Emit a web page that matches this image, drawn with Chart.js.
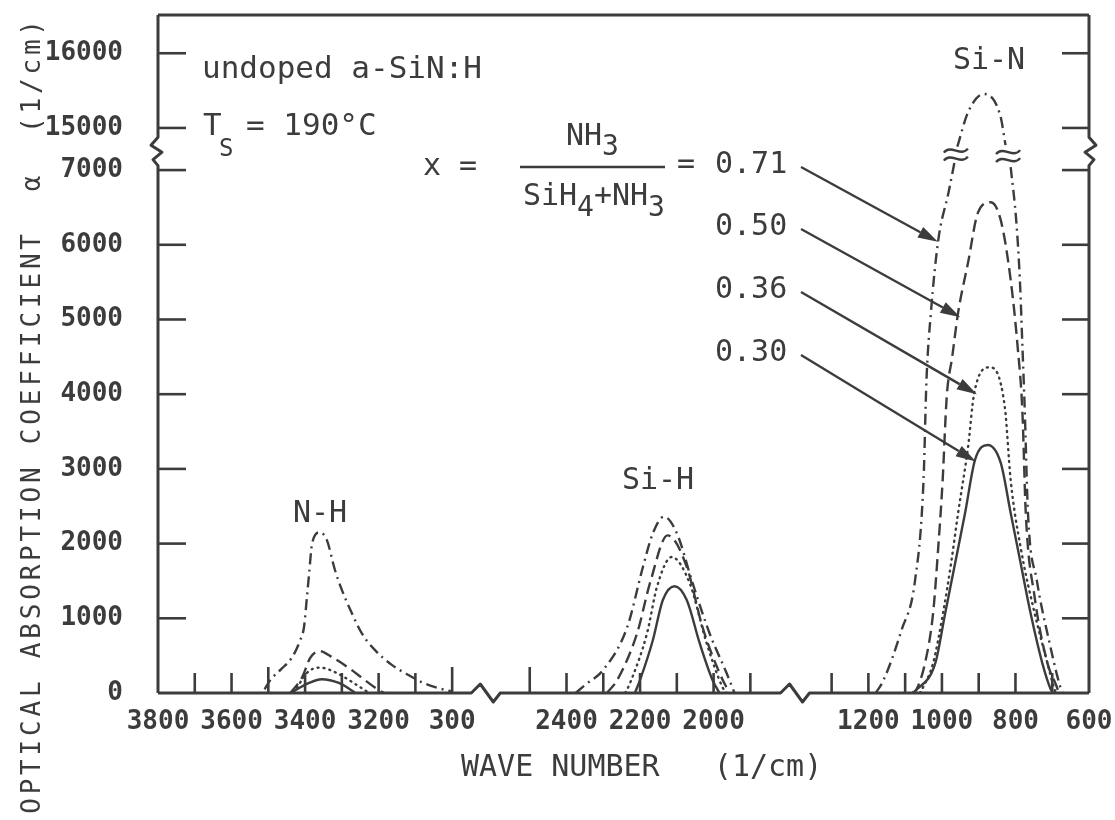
<!DOCTYPE html>
<html>
<head>
<meta charset="utf-8">
<title>a-SiN:H infrared absorption</title>
<script src="https://cdn.jsdelivr.net/npm/chart.js@4.4.1/dist/chart.umd.min.js"></script>
<style>
  body { margin: 0; background: #fff; }
  canvas { display: block; }
</style>
</head>
<body>
<canvas id="chart" width="1115" height="820"></canvas>
<script>
const INK = "#3c3c3c";
const MONO = '"DejaVu Sans Mono", "Liberation Mono", monospace';

// gas ratio x = NH3 / (SiH4 + NH3)
const compositions = ["0.71", "0.50", "0.36", "0.30"];

// [wave number (1/cm), alpha (1/cm)]
// N-H stretching band
const nh071 = [[3510, 50], [3495, 170], [3465, 320], [3435, 480], [3413, 710], [3403, 880], [3395, 1280], [3389, 1600], [3381, 2000], [3360, 2150], [3341, 2050], [3319, 1650], [3300, 1380], [3273, 1070], [3246, 800], [3211, 580], [3165, 380], [3119, 240], [3076, 130], [3030, 55], [3000, 20]];
const nh050 = [[3440, 0], [3408, 210], [3386, 470], [3360, 560], [3327, 480], [3281, 335], [3238, 175], [3200, 40], [3185, 0]];
const nh036 = [[3430, 0], [3395, 270], [3360, 340], [3319, 280], [3273, 150], [3238, 40], [3225, 0]];
const nh030 = [[3440, 0], [3389, 135], [3355, 185], [3308, 135], [3265, 10]];

// Si-H stretching band
const sih071 = [[2375, 0], [2349, 110], [2300, 310], [2235, 880], [2192, 1690], [2165, 2140], [2135, 2360], [2100, 2140], [2057, 1470], [2011, 800], [1965, 270], [1943, 0]];
const sih050 = [[2290, 0], [2262, 175], [2208, 800], [2173, 1470], [2125, 2110], [2073, 1690], [2030, 880], [1984, 270], [1957, 0]];
const sih036 = [[2240, 0], [2227, 135], [2181, 800], [2154, 1420], [2114, 1820], [2065, 1470], [2019, 670], [1976, 80], [1965, 0]];
const sih030 = [[2214, 0], [2200, 175], [2165, 710], [2138, 1245], [2106, 1430], [2073, 1245], [2038, 670], [2003, 175], [1984, 0]];

// Si-N stretching band (null = where the curve crosses the axis break)
const sin071 = [[1180, 0], [1159, 170], [1110, 840], [1073, 1510], [1050, 2850], [1042, 4190], [1030, 5090], [1010, 6060], [982, 6700], [966, 7100], null, [958, 14750], [929, 15210], [886, 15455], [841, 15160], [827, 14770], null, [813, 7040], [798, 6330], [788, 5530], [781, 4630], [775, 3830], [766, 2410], [742, 1510], [705, 620], [681, 130], [672, 0]];
const sin050 = [[1080, 0], [1070, 40], [1046, 400], [1024, 1070], [1010, 1950], [998, 2850], [987, 3960], [972, 4500], [956, 5090], [929, 5760], [902, 6430], [867, 6570], [840, 6330], [813, 5530], [794, 4630], [781, 3750], [772, 2410], [748, 1290], [713, 400], [689, 100], [682, 0]];
const sin036 = [[1060, 0], [1051, 80], [1024, 400], [997, 1070], [975, 1740], [956, 2410], [929, 3290], [912, 4020], [870, 4360], [829, 3830], [813, 2850], [786, 1950], [748, 1070], [713, 400], [697, 100], [690, 0]];
const sin030 = [[1080, 0], [1070, 40], [1018, 400], [991, 1070], [964, 1740], [937, 2410], [910, 3120], [875, 3320], [840, 3080], [813, 2410], [786, 1740], [759, 1070], [727, 400], [705, 60], [698, 0]];

const xTickWaves  = [3800, 3600, 3400, 3200, 3000, 2400, 2200, 2000, 1200, 1000, 800, 600];
const xTickLabels = ["3800", "3600", "3400", "3200", "300", "2400", "2200", "2000", "1200", "1000", "800", "600"];
const xMinorWaves = [3700, 3600, 3500, 3400, 3300, 3200, 3100, 3000, 2500, 2400, 2300, 2200, 2100, 2000, 1900, 1300, 1200, 1100, 1000, 900, 800, 700];
const yTickValues = [0, 1000, 2000, 3000, 4000, 5000, 6000, 7000, 15000, 16000];

// arrow tips sit on the curves, [wave number, alpha]
const arrowTips = [[1011, 6040], [950, 5030], [905, 4000], [908, 3100]];

// broken wave-number axis: 3800-3000 | 2500-1900 | 1300-600, 1 unit = 100/cm
function xv(w) {
  if (w > 2750) return (3800 - w) / 100;
  if (w > 1600) return 11.11 + (2400 - w) / 100;
  return 19.32 + (1200 - w) / 100;
}
// broken alpha axis: 0-7000 | 15000-16500
function yv(a) {
  return a < 11000 ? a : 7564 + (a - 15000);
}

function toPoints(bandList) {
  const pts = [];
  bandList.forEach((band, bi) => {
    if (bi > 0) pts.push({ x: (pts[pts.length - 1].x + xv(band[0][0])) / 2, y: null });
    band.forEach((p, k) => {
      if (p === null) pts.push({ x: (xv(band[k - 1][0]) + xv(band[k + 1][0])) / 2, y: null });
      else pts.push({ x: xv(p[0]), y: yv(p[1]) });
    });
  });
  return pts;
}

const bands = [
  [nh071, sih071, sin071],
  [nh050, sih050, sin050],
  [nh036, sih036, sin036],
  [nh030, sih030, sin030]
];
const dashes = [[11, 5, 2, 5], [12, 6], [1, 5], []];
const caps = ["butt", "butt", "round", "butt"];

function arrow(ctx, x0, y0, x1, y1) {
  const ang = Math.atan2(y1 - y0, x1 - x0);
  const len = 20, half = 6;
  const bx = x1 - len * Math.cos(ang), by = y1 - len * Math.sin(ang);
  ctx.beginPath();
  ctx.moveTo(x0, y0);
  ctx.lineTo(bx, by);
  ctx.stroke();
  ctx.beginPath();
  ctx.moveTo(x1, y1);
  ctx.lineTo(bx + half * Math.sin(ang), by - half * Math.cos(ang));
  ctx.lineTo(bx - half * Math.sin(ang), by + half * Math.cos(ang));
  ctx.closePath();
  ctx.fill();
}

function wave(ctx, cx, cy) {
  [-4, 4].forEach(off => {
    ctx.beginPath();
    ctx.moveTo(cx - 12, cy + off + 2);
    ctx.bezierCurveTo(cx - 5, cy + off - 7, cx + 5, cy + off + 7, cx + 12, cy + off - 2);
    ctx.stroke();
  });
}

function text(ctx, s, x, y, size, align) {
  ctx.font = size + "px " + MONO;
  ctx.textAlign = align || "left";
  ctx.fillText(s, x, y);
}

// keep the plot box where the figure has it, whatever the tick labels need
function fixBox(s) {
  s.paddingLeft = s.paddingRight = s.paddingTop = s.paddingBottom = 0;
}

// ---------- frame, inward ticks, breaks and labels ----------
const decor = {
  id: "decor",
  afterDatasetsDraw(chart) {
    const { ctx, chartArea: a, scales: { x, y } } = chart;
    const L = a.left, R = a.right, T = a.top, B = a.bottom;
    ctx.save();
    ctx.strokeStyle = INK;
    ctx.fillStyle = INK;
    ctx.lineJoin = "round";
    ctx.lineWidth = 3;

    // top
    ctx.beginPath(); ctx.moveTo(L, T); ctx.lineTo(R, T); ctx.stroke();
    // bottom with two breaks
    ctx.beginPath();
    ctx.moveTo(L, B);
    [8.52, 16.93].forEach(v => {
      const bx = x.getPixelForValue(v);
      ctx.lineTo(bx, B); ctx.lineTo(bx + 9, B - 9); ctx.lineTo(bx + 22, B + 9); ctx.lineTo(bx + 29, B);
    });
    ctx.lineTo(R, B);
    ctx.stroke();
    // left and right with break
    const yb0 = y.getPixelForValue(7440), yb1 = y.getPixelForValue(7060);
    [[L, -1], [R, 1]].forEach(([sx, d]) => {
      ctx.beginPath();
      ctx.moveTo(sx, T); ctx.lineTo(sx, yb0);
      ctx.lineTo(sx + 7 * d, yb0 + 8);
      ctx.lineTo(sx - 4 * d, yb0 + 15);
      ctx.lineTo(sx + 5 * d, yb1 - 6);
      ctx.lineTo(sx, yb1);
      ctx.lineTo(sx, B);
      ctx.stroke();
    });

    // y ticks pointing in
    ctx.lineWidth = 2.6;
    yTickValues.slice(1).forEach(v => {
      const py = y.getPixelForValue(yv(v));
      ctx.beginPath(); ctx.moveTo(L, py); ctx.lineTo(L + 28, py); ctx.stroke();
      ctx.beginPath(); ctx.moveTo(R - 27, py); ctx.lineTo(R, py); ctx.stroke();
    });
    // x ticks pointing up
    xMinorWaves.forEach(w => {
      const px = x.getPixelForValue(xv(w));
      const len = (w === 3500 || w === 3000 || w === 2500) ? 26 : 20;
      ctx.beginPath(); ctx.moveTo(px, B); ctx.lineTo(px, B - len); ctx.stroke();
    });

    // break marks on the x = 0.71 Si-N curve
    ctx.lineWidth = 2.4;
    wave(ctx, x.getPixelForValue(xv(962)), (y.getPixelForValue(yv(7100)) + y.getPixelForValue(yv(14750))) / 2);
    wave(ctx, x.getPixelForValue(xv(820)), (y.getPixelForValue(yv(14770)) + y.getPixelForValue(yv(7040))) / 2);

    // labels
    ctx.textBaseline = "middle";
    text(ctx, "undoped a-SiN:H", 202, 70, 31);
    text(ctx, "T", 203, 127, 31);
    text(ctx, "S", 219, 150, 24);
    text(ctx, "= 190\u00B0C", 246, 127, 31);

    text(ctx, "x =", 423, 167, 30);
    ctx.lineWidth = 2.6;
    ctx.beginPath(); ctx.moveTo(520, 167); ctx.lineTo(665, 167); ctx.stroke();
    text(ctx, "NH", 566, 137, 30);
    text(ctx, "3", 602, 148, 28);
    text(ctx, "SiH", 523, 197, 30);
    text(ctx, "4", 577, 209, 28);
    text(ctx, "+NH", 594, 197, 30);
    text(ctx, "3", 648, 209, 28);
    text(ctx, "=", 677, 165, 30);

    const labelY = [165, 227, 290, 353];
    compositions.forEach((c, i) => {
      text(ctx, c, 715, labelY[i], 30);
      const t = arrowTips[i];
      ctx.lineWidth = 2.4;
      arrow(ctx, 801, labelY[i] + 2, x.getPixelForValue(xv(t[0])), y.getPixelForValue(yv(t[1])));
    });

    text(ctx, "N-H", 320, 514, 30, "center");
    text(ctx, "Si-H", 658, 481, 30, "center");
    text(ctx, "Si-N", 989, 61, 30, "center");

    // axis titles
    text(ctx, "WAVE NUMBER   (1/cm)", 461, 768, 30);
    ctx.save();
    ctx.translate(33, 415);
    ctx.rotate(-Math.PI / 2);
    ctx.letterSpacing = "3.8px";
    text(ctx, "OPTICAL ABSORPTION COEFFICIENT  \u03B1  (1/cm)", 0, 0, 26, "center");
    ctx.restore();

    ctx.restore();
  }
};

new Chart(document.getElementById("chart"), {
  type: "scatter",
  data: {
    datasets: compositions.map((c, i) => ({
      label: "x = " + c,
      data: toPoints(bands[i]),
      showLine: true,
      pointRadius: 0,
      borderColor: INK,
      borderWidth: 2.4,
      borderDash: dashes[i],
      borderCapStyle: caps[i],
      cubicInterpolationMode: "monotone",
      spanGaps: false,
      fill: false
    }))
  },
  options: {
    responsive: false,
    animation: false,
    devicePixelRatio: 1,
    layout: { padding: { left: 0, right: 26, top: 15, bottom: 0 } },
    plugins: { legend: { display: false }, tooltip: { enabled: false } },
    scales: {
      x: {
        type: "linear",
        min: 0,
        max: 25.32,
        grid: { display: false, drawTicks: false },
        border: { display: false },
        afterFit: s => { s.height = 127; fixBox(s); },
        afterBuildTicks: s => { s.ticks = xTickWaves.map(w => ({ value: xv(w) })); },
        ticks: {
          autoSkip: false, maxRotation: 0, padding: 14, color: INK,
          font: { family: MONO, size: 26, weight: "bold" },
          callback: (v, i) => xTickLabels[i]
        }
      },
      y: {
        type: "linear",
        min: 0,
        max: 9076,
        grid: { display: false, drawTicks: false },
        border: { display: false },
        afterFit: s => { s.width = 158; fixBox(s); },
        afterBuildTicks: s => { s.ticks = yTickValues.map(v => ({ value: yv(v) })); },
        ticks: {
          autoSkip: false, padding: 35, color: INK,
          font: { family: MONO, size: 26, weight: "bold" },
          callback: (v, i) => String(yTickValues[i])
        }
      }
    }
  },
  plugins: [decor]
});
</script>
</body>
</html>
